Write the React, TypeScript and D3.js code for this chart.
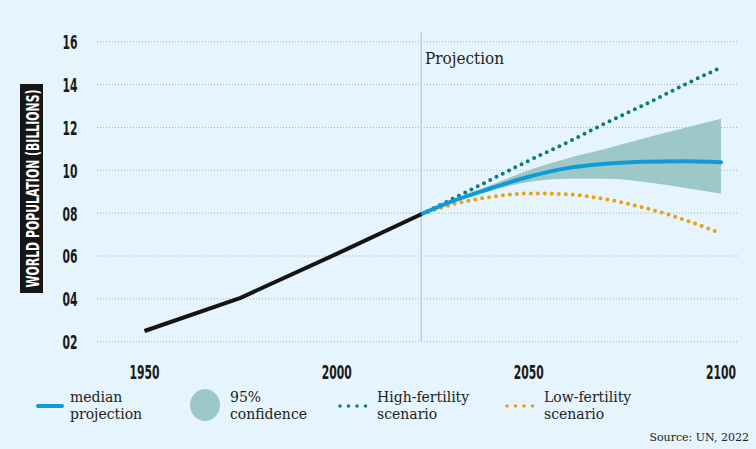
import * as d3 from "d3";

const WIDTH = 756;
const HEIGHT = 449;

// world population, billions
const histYears = [1950, 1975, 2000, 2022];
const histValues = [2.5, 4.05, 6.1, 7.95];

const projYears = [2022, 2030, 2040, 2050, 2060, 2070, 2080, 2090, 2100];
const median = [7.95, 8.55, 9.15, 9.7, 10.1, 10.3, 10.4, 10.42, 10.37];
const upper95 = [7.95, 8.6, 9.3, 10.0, 10.55, 11.0, 11.5, 11.95, 12.4];
const lower95 = [7.95, 8.5, 9.05, 9.45, 9.6, 9.6, 9.45, 9.2, 8.9];
const highFert = [7.95, 8.65, 9.55, 10.45, 11.3, 12.2, 13.05, 13.95, 14.8];
const lowFert = [7.95, 8.4, 8.75, 8.92, 8.88, 8.65, 8.25, 7.72, 7.05];

const xTicks = [1950, 2000, 2050, 2100];
const yTicks = [2, 4, 6, 8, 10, 12, 14, 16];
const yTickLabels = ["02", "04", "06", "08", "10", "12", "14", "16"];

const legendItems = [
  { kind: "line", lines: ["median", "projection"] },
  { kind: "circle", lines: ["95%", "confidence"] },
  { kind: "high", lines: ["High-fertility", "scenario"] },
  { kind: "low", lines: ["Low-fertility", "scenario"] },
];

const BG = "#e6f4fd";
const BLUE = "#0f9bd9";
const BAND = "#9cc8c8";
const TEAL = "#0b7b7b";
const ORANGE = "#e9a112";
const SERIF = "'DejaVu Serif', serif";
const COND = "'DejaVu Sans Condensed', 'DejaVu Sans', sans-serif";

const x = d3.scaleLinear().domain([1950, 2100]).range([144.5, 721]);
const y = d3.scaleLinear().domain([2, 16]).range([341.7, 41.7]);

const App = () => {
  const hist = d3
    .line<number>()
    .x((_, i) => x(histYears[i]))
    .y((d) => y(d));
  const proj = d3
    .line<number>()
    .x((_, i) => x(projYears[i]))
    .y((d) => y(d))
    .curve(d3.curveMonotoneX);
  const band = d3
    .area<number>()
    .x((_, i) => x(projYears[i]))
    .y0((_, i) => y(lower95[i]))
    .y1((d) => y(d))
    .curve(d3.curveMonotoneX);

  const legendX = [36, 190, 338, 505];

  return (
    <svg
      width={WIDTH}
      height={HEIGHT}
      style={{ position: "fixed", left: 0, top: 0 }}
    >
      <rect width={WIDTH} height={HEIGHT} fill={BG} />

      {/* grid */}
      {yTicks.map((t, i) => (
        <g key={t}>
          <line
            x1={97}
            x2={739}
            y1={y(t)}
            y2={y(t)}
            stroke="#a9b0b5"
            strokeWidth={1}
            strokeDasharray="1 2"
          />
          <text
            x={70}
            y={y(t) + 7.5}
            textAnchor="middle"
            fontFamily={COND}
            fontWeight="bold"
            fontSize={20}
            textLength={15}
            lengthAdjust="spacingAndGlyphs"
            fill="#1a1a1a"
          >
            {yTickLabels[i]}
          </text>
        </g>
      ))}

      {xTicks.map((t) => (
        <text
          key={t}
          x={x(t)}
          y={379}
          textAnchor="middle"
          fontFamily={COND}
          fontWeight="bold"
          fontSize={20}
          textLength={30}
          lengthAdjust="spacingAndGlyphs"
          fill="#1a1a1a"
        >
          {t}
        </text>
      ))}

      {/* y label */}
      <rect x={20} y={84} width={23} height={209} fill="#161616" />
      <text
        transform={`translate(38.5,188.5) rotate(-90)`}
        textAnchor="middle"
        fontFamily={COND}
        fontWeight="bold"
        fontSize={17}
        textLength={198}
        lengthAdjust="spacingAndGlyphs"
        fill="#fff"
      >
        WORLD POPULATION (BILLIONS)
      </text>

      {/* projection marker */}
      <line
        x1={x(2022)}
        x2={x(2022)}
        y1={32}
        y2={y(2)}
        stroke="#c3ced8"
        strokeWidth={1.5}
      />
      <text
        x={425}
        y={64}
        fontFamily={SERIF}
        fontSize={16}
        textLength={79}
        lengthAdjust="spacingAndGlyphs"
        fill="#222"
      >
        Projection
      </text>

      <path d={band(upper95) ?? ""} fill={BAND} />
      <path
        d={proj(highFert) ?? ""}
        fill="none"
        stroke={TEAL}
        strokeWidth={4}
        strokeLinecap="round"
        strokeDasharray="0 7"
      />
      <path
        d={proj(lowFert) ?? ""}
        fill="none"
        stroke={ORANGE}
        strokeWidth={4}
        strokeLinecap="round"
        strokeDasharray="0 7"
      />
      <path
        d={proj(median) ?? ""}
        fill="none"
        stroke={BLUE}
        strokeWidth={4}
        strokeLinecap="round"
      />
      <path
        d={hist(histValues) ?? ""}
        fill="none"
        stroke="#151515"
        strokeWidth={4}
      />

      {/* legend */}
      {legendItems.map((item, i) => {
        const lx = legendX[i];
        let textX = lx + 34;
        let mark;
        if (item.kind === "line") {
          mark = (
            <line
              x1={lx + 2}
              x2={lx + 26}
              y1={406}
              y2={406}
              stroke={BLUE}
              strokeWidth={4}
              strokeLinecap="round"
            />
          );
        } else if (item.kind === "circle") {
          mark = <ellipse cx={lx + 15} cy={405} rx={15} ry={16} fill={BAND} />;
          textX = lx + 40;
        } else {
          mark = (
            <line
              x1={lx + 2}
              x2={lx + 29}
              y1={406}
              y2={406}
              stroke={item.kind === "high" ? TEAL : ORANGE}
              strokeWidth={3.5}
              strokeLinecap="round"
              strokeDasharray="0 8.5"
            />
          );
          textX = lx + 39;
        }
        return (
          <g key={i}>
            {mark}
            {item.lines.map((l, j) => (
              <text
                key={j}
                x={textX}
                y={402 + j * 17}
                fontFamily={SERIF}
                fontSize={14}
                fill="#222"
              >
                {l}
              </text>
            ))}
          </g>
        );
      })}

      <text
        x={749}
        y={441}
        textAnchor="end"
        fontFamily={SERIF}
        fontSize={11}
        fill="#222"
      >
        Source: UN, 2022
      </text>
    </svg>
  );
};

export default App;
